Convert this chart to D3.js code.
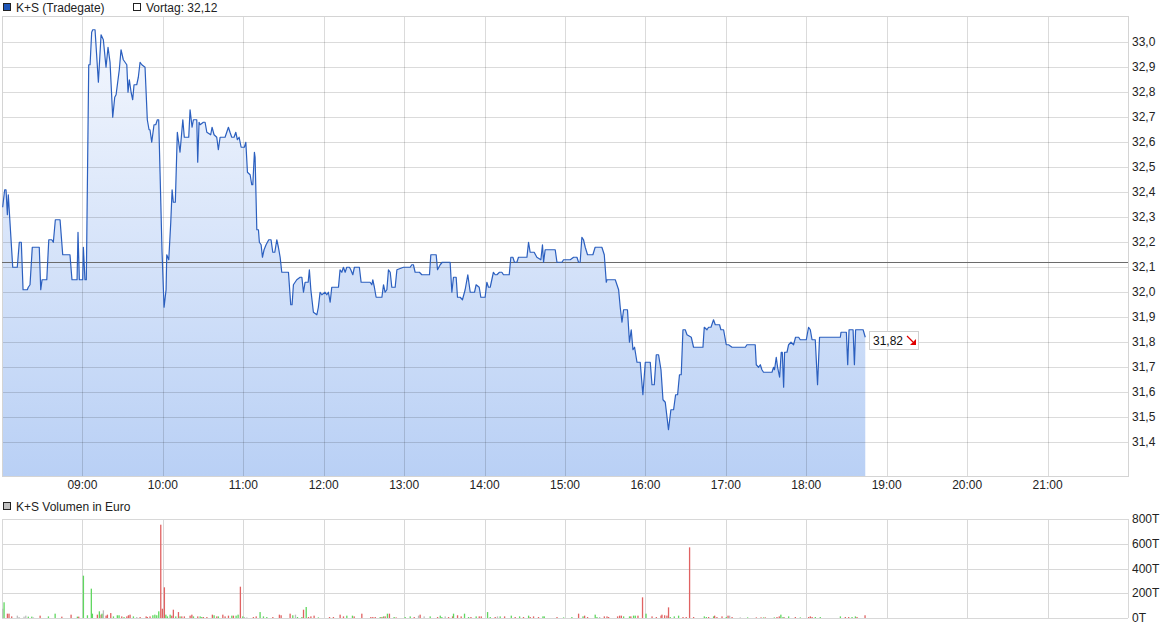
<!DOCTYPE html>
<html><head><meta charset="utf-8">
<script src="https://cdn.jsdelivr.net/npm/d3@7/dist/d3.min.js"></script>
<style>
body{margin:0;background:#fff;}
svg{display:block;font-family:"Liberation Sans",Arial,sans-serif;font-size:12px;}
</style></head><body>
<svg id="c" width="1175" height="630"></svg>
<script>
// ---- data (times in minutes after 08:00) ----
const seriesName = "K+S (Tradegate)";
const prevLabel = "Vortag: 32,12";
const volumeName = "K+S Volumen in Euro";
const previousClose = 32.12;
const lastPrice = 31.82;
const priceTicks = [31.4,31.5,31.6,31.7,31.8,31.9,32.0,32.1,32.2,32.3,32.4,32.5,32.6,32.7,32.8,32.9,33.0];
const hourTicks = ["09:00","10:00","11:00","12:00","13:00","14:00","15:00","16:00","17:00","18:00","19:00","20:00","21:00"];
const volumeTicks = [0,200,400,600,800]; // thousand euro

const priceMinutes = [0.5,2.0,3.0,4.0,4.7,8.0,11.4,12.9,14.4,15.7,18.9,19.6,20.9,22.6,27.8,28.9,29.9,33.4,34.9,37.1,38.3,39.8,43.3,45.3,50.7,52.2,56.0,56.7,57.7,60.2,60.7,61.9,62.9,64.7,65.7,66.9,67.7,69.4,71.9,73.9,75.6,77.6,79.1,80.6,82.6,84.1,85.1,87.5,88.8,90.5,93.1,94.0,95.0,96.3,97.5,98.5,100.5,101.7,103.0,104.3,106.7,108.4,109.7,110.4,111.7,113.4,114.7,115.9,116.9,117.9,119.4,120.9,122.4,122.9,124.4,125.9,126.9,127.8,129.3,130.8,132.8,134.9,136.0,139.3,140.3,141.8,142.8,145.3,146.0,147.0,147.8,150.2,151.5,152.8,155.7,156.7,158.2,160.2,161.4,162.7,166.4,168.9,170.1,171.4,173.1,174.4,175.6,176.9,178.4,180.8,181.9,183.1,185.1,186.3,187.1,188.3,188.8,190.1,191.3,192.0,193.3,194.3,195.5,197.0,199.0,200.7,202.0,203.5,205.0,206.2,207.5,208.7,213.7,215.4,216.4,217.4,219.9,222.4,223.7,224.9,226.1,228.4,229.3,230.4,232.3,234.9,236.0,237.3,238.6,241.0,242.3,243.5,244.8,246.0,251.0,252.2,253.5,254.7,256.0,257.2,259.2,260.2,261.7,262.9,266.6,267.9,274.6,275.9,276.6,277.8,279.1,283.4,284.6,285.8,287.1,288.3,289.6,290.8,293.3,294.6,299.5,304.5,305.7,306.9,308.2,311.4,313.2,318.9,319.9,323.9,324.9,326.9,328.4,334.3,335.6,336.8,338.8,339.8,341.8,343.5,345.5,347.5,349.3,352.5,353.7,356.0,357.2,360.4,361.7,362.9,364.2,366.6,367.9,369.2,371.1,372.9,374.1,378.4,379.6,381.1,382.3,384.1,385.3,387.8,389.0,391.6,392.8,394.0,397.0,399.0,402.0,403.2,404.0,405.2,412.7,414.0,417.7,418.9,423.9,426.4,428.9,430.1,431.3,432.6,433.8,435.1,436.8,440.8,442.5,447.5,449.3,450.8,451.3,457.5,460.0,461.2,462.5,463.7,466.6,468.1,469.4,470.7,471.9,473.7,476.1,478.1,479.9,483.6,484.9,486.6,488.1,489.8,491.6,493.1,494.8,497.2,499.0,501.0,502.5,504.0,505.4,506.7,508.0,509.7,511.0,514.2,515.9,522.9,523.9,525.9,527.1,528.9,530.8,532.1,535.3,536.3,538.3,540.3,542.0,544.6,554.5,555.7,561.9,562.7,564.4,565.7,566.9,568.1,574.4,575.6,576.3,577.6,578.6,580.1,581.3,582.1,583.1,583.8,585.6,586.8,588.6,590.5,592.0,594.3,595.5,600.0,601.7,603.0,604.3,606.7,608.4,609.9,625.4,625.9,629.9,630.9,631.9,634.9,635.9,636.8,642.4,644.0];
const priceValues = [32.34,32.41,32.41,32.31,32.39,32.10,32.10,32.20,32.20,32.01,32.01,32.02,32.03,32.18,32.18,32.01,32.05,32.05,32.21,32.21,32.20,32.29,32.29,32.15,32.15,32.05,32.05,32.24,32.05,32.05,32.18,32.05,32.05,32.91,32.91,33.04,33.05,33.05,32.84,33.03,33.01,32.90,32.98,32.92,32.70,32.78,32.79,32.89,32.97,32.93,32.91,32.80,32.85,32.80,32.77,32.83,32.83,32.86,32.92,32.91,32.90,32.69,32.65,32.65,32.60,32.67,32.67,32.69,32.69,32.48,32.16,31.94,32.01,32.15,32.13,32.28,32.41,32.36,32.36,32.64,32.56,32.69,32.62,32.62,32.73,32.66,32.69,32.69,32.52,32.68,32.67,32.68,32.68,32.64,32.63,32.66,32.63,32.62,32.57,32.62,32.62,32.66,32.64,32.62,32.62,32.64,32.61,32.62,32.58,32.58,32.60,32.48,32.47,32.43,32.43,32.56,32.54,32.25,32.25,32.20,32.19,32.14,32.17,32.19,32.21,32.21,32.16,32.16,32.21,32.18,32.14,32.08,32.08,31.95,31.95,32.03,32.05,32.06,32.06,32.00,32.04,32.04,32.09,32.01,31.92,31.91,31.94,32.00,31.99,32.00,31.99,32.00,31.96,32.02,32.02,32.09,32.08,32.10,32.08,32.10,32.10,32.09,32.07,32.10,32.10,32.04,32.04,32.03,32.05,32.02,31.98,31.98,32.03,32.00,32.01,32.09,32.08,32.02,32.02,32.09,32.10,32.10,32.11,32.11,32.08,32.08,32.07,32.07,32.15,32.15,32.09,32.11,32.12,32.12,32.00,32.06,32.06,31.98,31.98,31.97,32.01,32.07,32.00,32.00,32.03,32.02,31.98,31.98,32.04,32.02,32.02,32.08,32.07,32.07,32.08,32.08,32.07,32.07,32.14,32.14,32.12,32.12,32.14,32.14,32.14,32.14,32.20,32.16,32.16,32.14,32.13,32.19,32.12,32.17,32.17,32.12,32.12,32.13,32.13,32.14,32.14,32.12,32.12,32.22,32.21,32.18,32.15,32.15,32.18,32.18,32.15,32.04,32.05,32.05,32.01,31.94,31.88,31.93,31.93,31.80,31.85,31.77,31.78,31.72,31.72,31.59,31.72,31.72,31.63,31.63,31.75,31.75,31.69,31.57,31.56,31.45,31.53,31.53,31.59,31.59,31.67,31.67,31.85,31.85,31.83,31.82,31.78,31.78,31.86,31.85,31.86,31.86,31.89,31.87,31.87,31.85,31.85,31.79,31.79,31.78,31.78,31.79,31.79,31.71,31.70,31.71,31.69,31.68,31.68,31.70,31.69,31.74,31.70,31.66,31.76,31.76,31.62,31.76,31.76,31.79,31.80,31.79,31.82,31.82,31.81,31.81,31.86,31.85,31.81,31.81,31.63,31.82,31.82,31.84,31.84,31.71,31.85,31.85,31.71,31.85,31.85,31.82];

const volumeMinutes = [0.5,1.5,4.0,5.2,7.2,11.4,12.7,16.4,17.7,19.6,22.2,23.4,28.4,34.6,39.6,44.6,51.5,56.2,57.2,60.7,63.7,66.6,67.4,71.1,72.6,73.9,74.6,75.6,77.6,78.6,81.1,83.1,86.0,87.3,89.3,91.0,93.1,94.3,95.5,98.0,100.5,103.0,107.5,108.4,110.4,112.5,114.0,115.4,116.9,118.4,119.6,121.1,122.2,123.4,125.4,126.6,127.8,129.6,131.6,132.8,134.1,136.0,140.3,141.6,142.8,146.0,147.8,149.0,150.2,152.8,156.9,158.2,160.2,161.4,164.7,166.4,168.9,171.4,172.6,174.6,176.1,177.8,179.6,180.8,182.6,187.5,189.6,192.5,195.0,197.5,202.0,206.9,208.2,214.9,216.9,218.9,220.4,223.7,224.9,226.9,228.6,230.4,232.8,236.0,244.3,247.2,252.2,254.7,257.2,261.4,262.7,268.4,275.1,276.6,278.4,282.1,283.4,284.6,285.8,287.5,289.0,292.5,294.0,300.7,304.5,307.5,310.7,311.9,314.9,319.4,324.9,326.9,328.1,330.6,333.1,336.1,336.8,339.8,342.5,345.0,348.0,349.8,353.7,356.0,357.5,362.2,364.2,367.9,369.6,371.6,374.9,379.9,382.8,386.1,389.0,392.8,394.0,396.5,400.2,403.5,404.5,414.0,418.9,425.1,430.1,433.4,434.6,436.8,442.5,443.8,445.8,449.3,451.3,452.5,459.2,460.7,462.0,463.7,468.1,469.1,471.1,472.4,474.4,477.8,480.4,484.9,488.1,491.6,492.3,494.3,496.0,497.2,498.5,501.5,504.7,508.0,510.4,512.9,515.9,523.9,525.4,527.1,530.8,531.6,533.3,537.1,540.3,541.6,542.8,544.6,550.7,556.2,562.7,566.2,568.1,569.4,576.1,578.1,579.8,581.0,582.6,583.6,586.8,591.8,595.5,601.7,603.0,604.3,606.7,610.4,625.4,629.1,631.6,634.1,636.6,637.8,643.8];
const volumeValues = [75,127,35,35,13,19,8,11,19,11,11,5,19,13,35,11,27,11,11,342,22,237,35,27,54,27,35,62,19,27,40,13,22,22,13,8,13,22,27,13,8,8,13,8,13,22,27,22,54,754,75,248,27,13,27,19,67,13,48,13,13,13,19,27,13,13,13,8,8,8,27,22,13,13,27,13,19,19,19,19,27,253,13,8,5,8,13,48,13,8,8,27,22,35,22,27,8,8,67,89,8,13,19,5,8,8,27,13,19,19,13,35,8,8,8,8,8,13,13,35,35,8,5,8,13,8,19,27,13,13,8,19,8,13,8,13,35,22,13,35,8,8,13,13,13,48,8,8,13,13,13,19,8,13,8,19,8,13,8,13,13,8,5,8,35,13,19,8,27,8,8,13,13,8,13,19,19,13,13,13,19,19,19,167,35,13,8,19,27,22,19,86,8,13,19,8,8,571,8,13,8,8,13,19,8,13,8,19,19,8,5,5,5,5,5,5,5,8,13,27,8,5,13,8,5,8,13,8,8,8,13,8,8,8,13,8,22];
// u = up tick (green), d = down tick (red), n = unchanged (grey)
const volumeDirection = ("nudddnnnnu"+"unduuddudu"+"uuududundd"+"duuududddu"+"ndddduuuud"+"dduuuddudu"+"dddduduudd"+"dududddudu"+"udunndduuu"+"ddddunuudu"+"dddudddduu"+"dddddududu"+"dud"+"uudndnu"+"duundduddu"+"ududduudnu"+"dudududddu"+"uduududduu"+"ndddddduud"+"uudduddddd"+"dduuuddddu"+"ududddudnd"+"nuddududdu"+"udududdduu"+"udduudd").split("");

// ---- layout ----
const L = 2, R = 1128, T = 16, B = 476;
const VT = 519, VB = 618;
const svg = d3.select("#c");
const loc = d3.formatLocale({decimal: ",", thousands: ".", grouping: [3], currency: ["", "€"]});
const f1 = loc.format(".1f"), f2 = loc.format(".2f");

const x = d3.scaleLinear().domain([0, 840]).range([L, R]);
const y = d3.scaleLinear().domain([31.265, 33.105]).range([B, T]);
const vy = d3.scaleLinear().domain([0, 800]).range([VB, VT]);
const hourMin = h => (+h.slice(0,2) - 8) * 60;

const prices = d3.zip(priceMinutes, priceValues);

// gradient
const defs = svg.append("defs");
const g = defs.append("linearGradient").attr("id","fillg").attr("gradientUnits","userSpaceOnUse")
  .attr("x1",0).attr("x2",0).attr("y1",T).attr("y2",B);
g.append("stop").attr("offset","0").attr("stop-color","#f5f8fe");
g.append("stop").attr("offset","1").attr("stop-color","#b9d0f5");

// area
svg.append("path").datum(prices)
  .attr("d", d3.area().x(d=>x(d[0])).y0(B).y1(d=>y(d[1])).curve(d3.curveLinear))
  .attr("fill","url(#fillg)");

// grid main
const grid = svg.append("g").attr("stroke","#000").attr("stroke-opacity",0.14).attr("shape-rendering","crispEdges");
grid.selectAll(".h").data(priceTicks).join("line")
  .attr("x1",L).attr("x2",R).attr("y1",d=>Math.round(y(d))+0.5).attr("y2",d=>Math.round(y(d))+0.5);
grid.selectAll(".v").data(hourTicks).join("line")
  .attr("x1",d=>Math.round(x(hourMin(d)))+0.5).attr("x2",d=>Math.round(x(hourMin(d)))+0.5).attr("y1",T).attr("y2",B);

// frame
svg.append("rect").attr("x",L+0.5).attr("y",T+0.5).attr("width",R-L).attr("height",B-T)
  .attr("fill","none").attr("stroke","#d4d4d4").attr("shape-rendering","crispEdges");

// previous close line
svg.append("line").attr("x1",L).attr("x2",R)
  .attr("y1",Math.round(y(previousClose))+0.5).attr("y2",Math.round(y(previousClose))+0.5)
  .attr("stroke","#6b6b6b").attr("stroke-width",1).attr("shape-rendering","crispEdges");

// price line
svg.append("path").datum(prices)
  .attr("d", d3.line().x(d=>x(d[0])).y(d=>y(d[1])))
  .attr("fill","none").attr("stroke","#2b5fbf").attr("stroke-width",1.2).attr("stroke-linejoin","round");

// y labels
svg.append("g").selectAll("text").data(priceTicks).join("text")
  .attr("x",1132).attr("y",d=>y(d)).attr("dy","0.35em").attr("fill","#222").text(d=>f1(d));

// x labels
svg.append("g").selectAll("text").data(hourTicks).join("text")
  .attr("x",d=>x(hourMin(d))).attr("y",489).attr("text-anchor","middle").attr("fill","#222").text(d=>d);

// last price box
const ly = y(lastPrice);
const lb = svg.append("g");
lb.append("rect").attr("x",869.5).attr("y",Math.round(ly)-5.5).attr("width",49).attr("height",18)
  .attr("fill","#fff").attr("stroke","#d0d0d0");
lb.append("text").attr("x",873).attr("y",Math.round(ly)+8).attr("fill","#111").text(f2(lastPrice));
const ax = 907, ay = Math.round(ly) - 1;
lb.append("line").attr("x1",ax).attr("y1",ay).attr("x2",ax+6).attr("y2",ay+6).attr("stroke","#e00000").attr("stroke-width",1.2);
lb.append("path").attr("d",`M${ax+9},${ay+3} L${ax+9},${ay+9} L${ax+3},${ay+9} Z`).attr("fill","#e00000");

// legend
svg.append("rect").attr("x",3.5).attr("y",3.5).attr("width",7).attr("height",7).attr("fill","#1f56b8").attr("stroke","#222");
svg.append("text").attr("x",16).attr("y",11.5).attr("fill","#222").text(seriesName);
svg.append("rect").attr("x",133.5).attr("y",3.5).attr("width",7).attr("height",7).attr("fill","#fff").attr("stroke","#222");
svg.append("text").attr("x",146).attr("y",11.5).attr("fill","#222").text(prevLabel);

// ---- volume panel ----
svg.append("rect").attr("x",3.5).attr("y",502.5).attr("width",7).attr("height",7).attr("fill","#c0c0c0").attr("stroke","#222");
svg.append("text").attr("x",16).attr("y",510.5).attr("fill","#222").text(volumeName);

const vgrid = svg.append("g").attr("stroke","#d8d8d8").attr("shape-rendering","crispEdges");
vgrid.selectAll(".h").data(volumeTicks).join("line")
  .attr("x1",L).attr("x2",R).attr("y1",d=>Math.round(vy(d))+0.5).attr("y2",d=>Math.round(vy(d))+0.5);
vgrid.selectAll(".v").data(hourTicks).join("line")
  .attr("x1",d=>Math.round(x(hourMin(d)))+0.5).attr("x2",d=>Math.round(x(hourMin(d)))+0.5).attr("y1",VT).attr("y2",VB);
vgrid.append("line").attr("x1",L+0.5).attr("x2",L+0.5).attr("y1",VT).attr("y2",VB);
vgrid.append("line").attr("x1",R+0.5).attr("x2",R+0.5).attr("y1",VT).attr("y2",VB);

const vcol = {u:"#5fd75f", d:"#e06262", n:"#bdbdbd"};
const vols = volumeMinutes.map((m,i)=>({m, v:volumeValues[i], d:volumeDirection[i]}));
svg.append("g").selectAll("rect").data(vols).join("rect")
  .attr("x",d=>x(d.m)-0.6).attr("width",1.3)
  .attr("y",d=>vy(d.v)).attr("height",d=>VB-vy(d.v))
  .attr("fill",d=>vcol[d.d]);

svg.append("g").selectAll("text").data(volumeTicks).join("text")
  .attr("x",1132).attr("y",d=>vy(d)).attr("dy","0.35em").attr("fill","#222").text(d=>d+"T");
</script>
</body></html>
